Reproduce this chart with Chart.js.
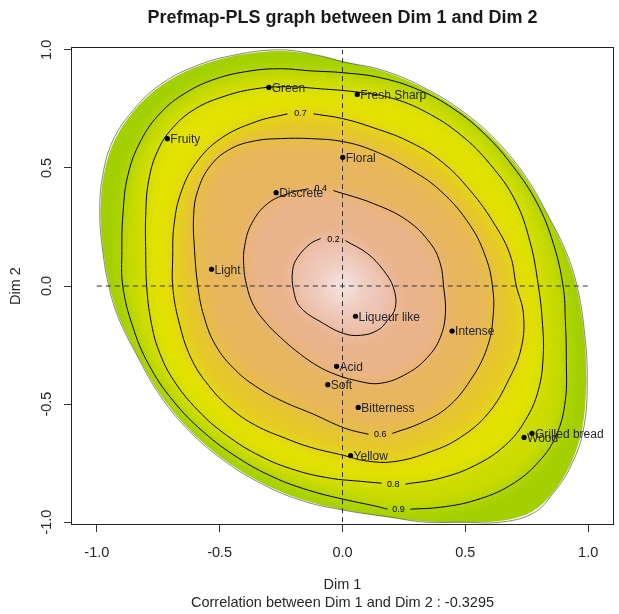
<!DOCTYPE html>
<html>
<head>
<meta charset="utf-8">
<script src="https://cdn.jsdelivr.net/npm/chart.js@4/dist/chart.umd.min.js"></script>
<style>
  html, body { margin: 0; padding: 0; background: #fff; }
  #prefmap { display: block; }
</style>
</head>
<body>
<canvas id="prefmap" width="619" height="614"></canvas>
<script>
// attributes plotted on Dim 1 / Dim 2
const attributes = ['Green', 'Fresh Sharp', 'Fruity', 'Floral', 'Discrete', 'Light', 'Liqueur like',
  'Intense', 'Acid', 'Soft', 'Bitterness', 'Yellow', 'Grilled bread', 'Wood'];
const dim1 = [-0.300, 0.060, -0.713, 0.001, -0.270, -0.533, 0.053, 0.446, -0.024, -0.060, 0.064, 0.033, 0.771, 0.739];
const dim2 = [0.841, 0.811, 0.624, 0.545, 0.395, 0.071, -0.128, -0.191, -0.340, -0.418, -0.514, -0.718, -0.624, -0.641];

const xTicks = [-1, -0.5, 0, 0.5, 1];
const yTicks = [-1, -0.5, 0, 0.5, 1];
const tickLabels = ['-1.0', '-0.5', '0.0', '0.5', '1.0'];

// contour lines (each starts and ends at its label)
const level02 = [[0.012,0.192],[0.102,0.137],[0.167,0.066],[0.207,-0.006],[0.215,-0.091],[0.183,-0.146],
  [0.142,-0.188],[0.073,-0.209],[0.004,-0.201],[-0.077,-0.159],[-0.171,-0.091],[-0.199,-0.019],[-0.203,0.066],
  [-0.183,0.121],[-0.130,0.180],[-0.089,0.201]];
const level04 = [[-0.037,0.404],[0.126,0.349],[0.264,0.277],[0.358,0.180],[0.398,0.095],[0.411,0.002],
  [0.419,-0.116],[0.398,-0.218],[0.346,-0.302],[0.264,-0.370],[0.154,-0.412],[0.053,-0.400],[-0.049,-0.366],
  [-0.118,-0.328],[-0.191,-0.273],[-0.252,-0.218],[-0.313,-0.154],[-0.362,-0.082],[-0.390,0.002],[-0.402,0.087],
  [-0.398,0.171],[-0.370,0.264],[-0.305,0.349],[-0.211,0.395],[-0.138,0.412]];
const level06 = [[0.203,-0.624],[0.317,-0.581],[0.427,-0.514],[0.520,-0.400],[0.589,-0.260],[0.614,-0.116],
  [0.610,0.002],[0.585,0.116],[0.520,0.256],[0.398,0.404],[0.264,0.501],[0.126,0.573],[0.004,0.611],
  [-0.130,0.624],[-0.252,0.624],[-0.354,0.615],[-0.455,0.581],[-0.537,0.510],[-0.589,0.404],[-0.606,0.298],
  [-0.602,0.150],[-0.589,0.002],[-0.565,-0.125],[-0.516,-0.252],[-0.435,-0.357],[-0.341,-0.433],[-0.244,-0.488],
  [-0.118,-0.543],[0.012,-0.603],[0.106,-0.628]];
const level07 = [[-0.118,0.729],[0.004,0.708],[0.126,0.670],[0.264,0.615],[0.398,0.531],[0.520,0.404],
  [0.622,0.256],[0.683,0.129],[0.707,0.002],[0.736,-0.116],[0.728,-0.260],[0.675,-0.400],[0.593,-0.539],
  [0.480,-0.641],[0.358,-0.702],[0.207,-0.744],[0.093,-0.740],[0.004,-0.717],[-0.130,-0.683],[-0.232,-0.645],
  [-0.354,-0.590],[-0.455,-0.518],[-0.545,-0.421],[-0.618,-0.302],[-0.667,-0.146],[-0.691,-0.002],[-0.691,0.121],
  [-0.687,0.247],[-0.659,0.391],[-0.598,0.518],[-0.496,0.624],[-0.354,0.695],[-0.224,0.729]];
const level08 = [[0.256,-0.839],[0.398,-0.814],[0.541,-0.759],[0.663,-0.674],[0.744,-0.569],[0.797,-0.442],
  [0.817,-0.294],[0.813,-0.146],[0.797,0.002],[0.764,0.184],[0.703,0.362],[0.602,0.514],[0.480,0.641],
  [0.337,0.738],[0.195,0.797],[0.053,0.822],[-0.089,0.835],[-0.232,0.844],[-0.354,0.835],[-0.476,0.805],
  [-0.598,0.751],[-0.691,0.670],[-0.752,0.573],[-0.789,0.446],[-0.801,0.298],[-0.801,0.150],[-0.797,-0.002],
  [-0.780,-0.146],[-0.748,-0.273],[-0.687,-0.400],[-0.589,-0.526],[-0.472,-0.632],[-0.333,-0.721],
  [-0.191,-0.780],[-0.049,-0.814],[0.073,-0.827],[0.159,-0.835]];
const level09 = [[0.276,-0.945],[0.398,-0.937],[0.541,-0.907],[0.683,-0.844],[0.797,-0.746],[0.870,-0.632],
  [0.907,-0.484],[0.911,-0.315],[0.907,-0.146],[0.898,-0.002],[0.858,0.180],[0.793,0.349],[0.695,0.505],
  [0.581,0.641],[0.451,0.751],[0.309,0.831],[0.154,0.882],[0.004,0.903],[-0.130,0.911],[-0.252,0.920],
  [-0.374,0.911],[-0.516,0.877],[-0.638,0.818],[-0.740,0.734],[-0.821,0.615],[-0.874,0.467],[-0.894,0.298],
  [-0.898,0.150],[-0.894,-0.002],[-0.854,-0.171],[-0.789,-0.332],[-0.691,-0.484],[-0.565,-0.619],
  [-0.423,-0.729],[-0.280,-0.810],[-0.138,-0.865],[0.004,-0.903],[0.134,-0.932],[0.183,-0.945]];
const boundary = [[0.004,0.949],[0.171,0.911],[0.341,0.835],[0.496,0.734],[0.634,0.607],[0.748,0.459],
  [0.841,0.290],[0.911,0.142],[0.955,-0.002],[0.984,-0.188],[0.996,-0.400],[0.980,-0.611],[0.927,-0.767],
  [0.858,-0.877],[0.776,-0.962],[0.642,-1.000],[0.480,-1.000],[0.337,-1.000],[0.195,-0.979],[0.004,-0.949],
  [-0.171,-0.907],[-0.341,-0.831],[-0.496,-0.729],[-0.634,-0.603],[-0.748,-0.455],[-0.841,-0.285],
  [-0.911,-0.137],[-0.951,-0.002],[-0.976,0.150],[-0.988,0.311],[-0.976,0.467],[-0.935,0.615],[-0.854,0.742],
  [-0.748,0.848],[-0.606,0.928],[-0.435,0.979],[-0.252,1.000],[-0.110,0.979]];

const levels = [level09, level08, level07, level06, level04, level02];
const levelNames = ['0.9', '0.8', '0.7', '0.6', '0.4', '0.2'];
const levelLabelX = [0.228, 0.207, -0.171, 0.154, -0.089, -0.037];
const levelLabelY = [-0.945, -0.839, 0.729, -0.628, 0.412, 0.197];
const idealPoint = [0.0, 0.0];

// terrain-like fill, outside band first, inner bands after
const outerColor = '#a2d000';
const bandColors = ['#cbdb00', '#e3e200', '#e6c82a', '#e8b65c', '#eab48c', '#eec4b4'];

const FONT = '"Liberation Sans", Arial, Helvetica, sans-serif';

function tracePath(ctx, chart, pts) {
  const sx = chart.scales.x, sy = chart.scales.y;
  const p = pts.map(([u, v]) => [sx.getPixelForValue(u), sy.getPixelForValue(v)]);
  const n = p.length;
  const mid = (a, b) => [(a[0] + b[0]) / 2, (a[1] + b[1]) / 2];
  ctx.beginPath();
  let m = mid(p[n - 1], p[0]);
  ctx.moveTo(m[0], m[1]);
  for (let i = 0; i < n; i++) {
    m = mid(p[i], p[(i + 1) % n]);
    ctx.quadraticCurveTo(p[i][0], p[i][1], m[0], m[1]);
  }
  ctx.closePath();
}

const surfacePlugin = {
  id: 'surface',
  beforeDatasetsDraw(chart) {
    const {ctx, chartArea: a} = chart;
    ctx.save();
    tracePath(ctx, chart, boundary);
    ctx.clip();
    ctx.fillStyle = outerColor;
    ctx.fillRect(a.left, a.top, a.width, a.height);
    ctx.filter = 'blur(8px)';
    levels.forEach((pts, i) => {
      tracePath(ctx, chart, pts);
      ctx.fillStyle = bandColors[i];
      ctx.fill();
    });
    const cx = chart.scales.x.getPixelForValue(idealPoint[0]);
    const cy = chart.scales.y.getPixelForValue(idealPoint[1]);
    const g = ctx.createRadialGradient(cx, cy, 0, cx, cy, 42);
    g.addColorStop(0, 'rgba(246,242,242,1)');
    g.addColorStop(1, 'rgba(238,196,180,0)');
    ctx.fillStyle = g;
    ctx.fillRect(cx - 60, cy - 60, 120, 120);
    ctx.restore();
  }
};

const textPlugin = {
  id: 'texts',
  afterDatasetsDraw(chart) {
    const {ctx, scales: {x, y}} = chart;
    ctx.save();
    // contour labels
    ctx.font = '9px ' + FONT;
    ctx.fillStyle = '#000';
    ctx.textAlign = 'center';
    ctx.textBaseline = 'middle';
    levelNames.forEach((t, i) => {
      ctx.fillText(t, x.getPixelForValue(levelLabelX[i]), y.getPixelForValue(levelLabelY[i]));
    });
    // attribute labels
    ctx.font = '12px ' + FONT;
    ctx.fillStyle = '#262626';
    ctx.textAlign = 'left';
    attributes.forEach((t, i) => {
      ctx.fillText(t, x.getPixelForValue(dim1[i]) + 3, y.getPixelForValue(dim2[i]) + 1);
    });
    ctx.restore();
  },
  afterDraw(chart) {
    const {ctx, chartArea: a, scales: {x, y}} = chart;
    ctx.save();
    ctx.strokeStyle = '#222';
    ctx.lineWidth = 1;
    ctx.strokeRect(a.left + 0.5, a.top + 0.5, a.width - 1, a.height - 1);
    ctx.fillStyle = '#1a1a1a';
    ctx.textAlign = 'center';
    ctx.textBaseline = 'alphabetic';
    ctx.font = 'bold 18px ' + FONT;
    ctx.fillText('Prefmap-PLS graph between Dim 1 and Dim 2', (a.left + a.right) / 2, 23);
    ctx.fillStyle = '#262626';
    ctx.font = '14.5px ' + FONT;
    xTicks.forEach((v, i) => ctx.fillText(tickLabels[i], x.getPixelForValue(v), 557));
    ctx.fillText('Dim 1', (a.left + a.right) / 2, 589);
    ctx.fillText('Correlation between Dim 1 and Dim 2 : -0.3295', (a.left + a.right) / 2, 607);
    yTicks.forEach((v, i) => {
      ctx.save();
      ctx.translate(51, y.getPixelForValue(v));
      ctx.rotate(-Math.PI / 2);
      ctx.fillText(tickLabels[i], 0, 0);
      ctx.restore();
    });
    ctx.save();
    ctx.translate(20, (a.top + a.bottom) / 2);
    ctx.rotate(-Math.PI / 2);
    ctx.fillText('Dim 2', 0, 0);
    ctx.restore();
    ctx.restore();
  }
};

const toXY = pts => pts.map(([u, v]) => ({x: u, y: v}));
const contourSets = levels.map((pts, i) => ({
  label: 'level ' + levelNames[i],
  data: toXY(pts),
  showLine: true,
  borderColor: '#000',
  borderWidth: 1,
  pointRadius: 0,
  tension: 0.4,
  order: 3
}));

new Chart(document.getElementById('prefmap'), {
  type: 'scatter',
  data: {
    datasets: [
      {
        label: 'attributes',
        data: dim1.map((v, i) => ({x: v, y: dim2[i]})),
        pointRadius: 2.6,
        pointBackgroundColor: '#000',
        pointBorderWidth: 0,
        order: 0
      },
      {
        label: 'h0',
        data: [{x: -1, y: 0}, {x: 1, y: 0}],
        showLine: true, borderColor: '#333', borderWidth: 1, borderDash: [5, 4], pointRadius: 0, order: 1
      },
      {
        label: 'v0',
        data: [{x: 0, y: -1}, {x: 0, y: 1}],
        showLine: true, borderColor: '#333', borderWidth: 1, borderDash: [5, 4], pointRadius: 0, order: 1
      },
      {
        label: 'boundary',
        data: toXY(boundary.concat([boundary[0]])),
        showLine: true, borderColor: 'rgba(0,0,0,0.6)', borderWidth: 0.8, pointRadius: 0, tension: 0.4, order: 3
      },
      ...contourSets
    ]
  },
  options: {
    responsive: false,
    animation: false,
    devicePixelRatio: 1,
    layout: {padding: {top: 47, right: 5, left: 0, bottom: 0}},
    plugins: {legend: {display: false}, tooltip: {enabled: false}},
    scales: {
      x: {
        type: 'linear', min: -1.105, max: 1.105,
        afterBuildTicks: s => { s.ticks = xTicks.map(v => ({value: v})); },
        afterFit: s => { s.height = 89; },
        ticks: {display: false},
        grid: {drawOnChartArea: false, drawTicks: true, tickLength: 7, color: '#333'},
        border: {display: false}
      },
      y: {
        type: 'linear', min: -1.012, max: 1.012,
        afterBuildTicks: s => { s.ticks = yTicks.map(v => ({value: v})); },
        afterFit: s => { s.width = 71; },
        ticks: {display: false},
        grid: {drawOnChartArea: false, drawTicks: true, tickLength: 7, color: '#333'},
        border: {display: false}
      }
    }
  },
  plugins: [surfacePlugin, textPlugin]
});
</script>
</body>
</html>
